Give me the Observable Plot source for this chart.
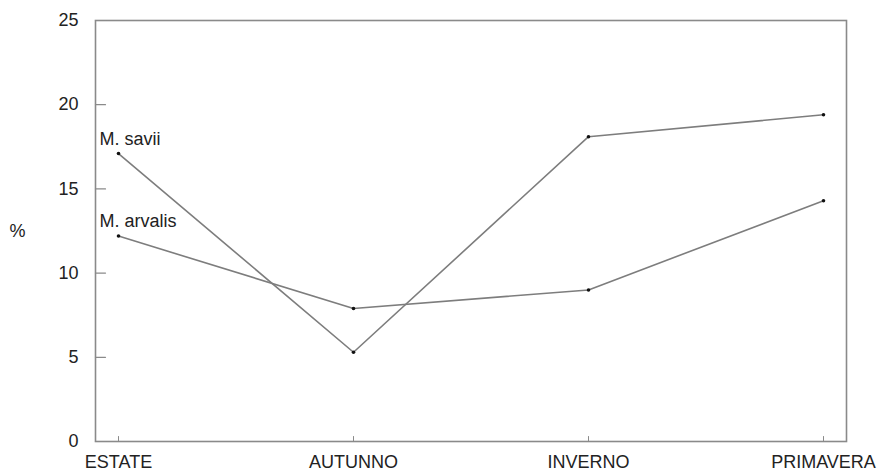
<!DOCTYPE html>
<html>
<head>
<meta charset="utf-8">
<script src="https://cdn.jsdelivr.net/npm/d3@7"></script>
<script src="https://cdn.jsdelivr.net/npm/@observablehq/plot@0.6"></script>
<style>
  html, body { margin: 0; padding: 0; background: #fff; overflow: hidden; }
  #chart svg { display: block; }
</style>
</head>
<body>
<div id="chart"></div>
<script>
// Seasonal share (%) of the two vole species
const seasons = ["ESTATE", "AUTUNNO", "INVERNO", "PRIMAVERA"];
const seriesNames = ["M. savii", "M. arvalis"];
const saviiValues = [17.1, 5.3, 18.1, 19.4];
const arvalisValues = [12.2, 7.9, 9.0, 14.3];
const yTicks = [0, 5, 10, 15, 20, 25];
const yLabel = "%";

const seriesValues = [saviiValues, arvalisValues];
const rows = seriesNames.flatMap((name, s) =>
  seasons.map((season, i) => ({ series: name, season, value: seriesValues[s][i] }))
);
const firstPoints = seriesNames.map((name, s) => ({ series: name, season: seasons[0], value: seriesValues[s][0] }));

const ink = "#222";
const lineGray = "#7d7d7d";
const frameGray = "#8a8a8a";
const font = "'Liberation Sans', Arial, sans-serif";

// a plain straight stroke for the inward tick marks
const tickShape = { draw(context, l) { context.moveTo(0, 0); context.lineTo(0, -l); } };

const chart = Plot.plot({
  width: 882,
  height: 472,
  marginLeft: 95,
  marginRight: 36,
  marginTop: 20,
  marginBottom: 31,
  style: { fontFamily: font, fontSize: "18px", color: ink, background: "#fff" },
  x: { type: "point", domain: seasons, padding: 0.095 },
  y: { domain: [0, 25] },
  marks: [
    Plot.frame({ stroke: frameGray, strokeWidth: 1.6 }),
    // inward tick marks on the y axis
    Plot.vector(yTicks, { y: d => d, frameAnchor: "left", rotate: 90, length: 10, anchor: "start", shape: tickShape, stroke: frameGray, strokeWidth: 1.2 }),
    // inward tick marks on the x axis
    Plot.vector(seasons, { x: d => d, frameAnchor: "bottom", rotate: 0, length: 5, anchor: "start", shape: tickShape, stroke: frameGray, strokeWidth: 1 }),
    Plot.axisY({ ticks: yTicks, tickSize: 0, tickPadding: 17, fontSize: 18, fill: ink, label: null }),
    Plot.axisX({ tickSize: 0, tickPadding: 14, fontSize: 18, fill: ink, label: null }),
    Plot.text([yLabel], { text: d => d, frameAnchor: "left", dx: -78, fontSize: 18, fill: ink, textAnchor: "middle" }),
    Plot.line(rows, { x: "season", y: "value", z: "series", stroke: lineGray, strokeWidth: 1.6 }),
    Plot.dot(rows, { x: "season", y: "value", r: 1.8, fill: "#111", stroke: "none" }),
    Plot.text(firstPoints, { x: "season", y: "value", text: "series", textAnchor: "start", lineAnchor: "bottom", dx: -19, dy: -9, fontSize: 18, fill: ink })
  ]
});

document.getElementById("chart").appendChild(chart);
</script>
</body>
</html>
